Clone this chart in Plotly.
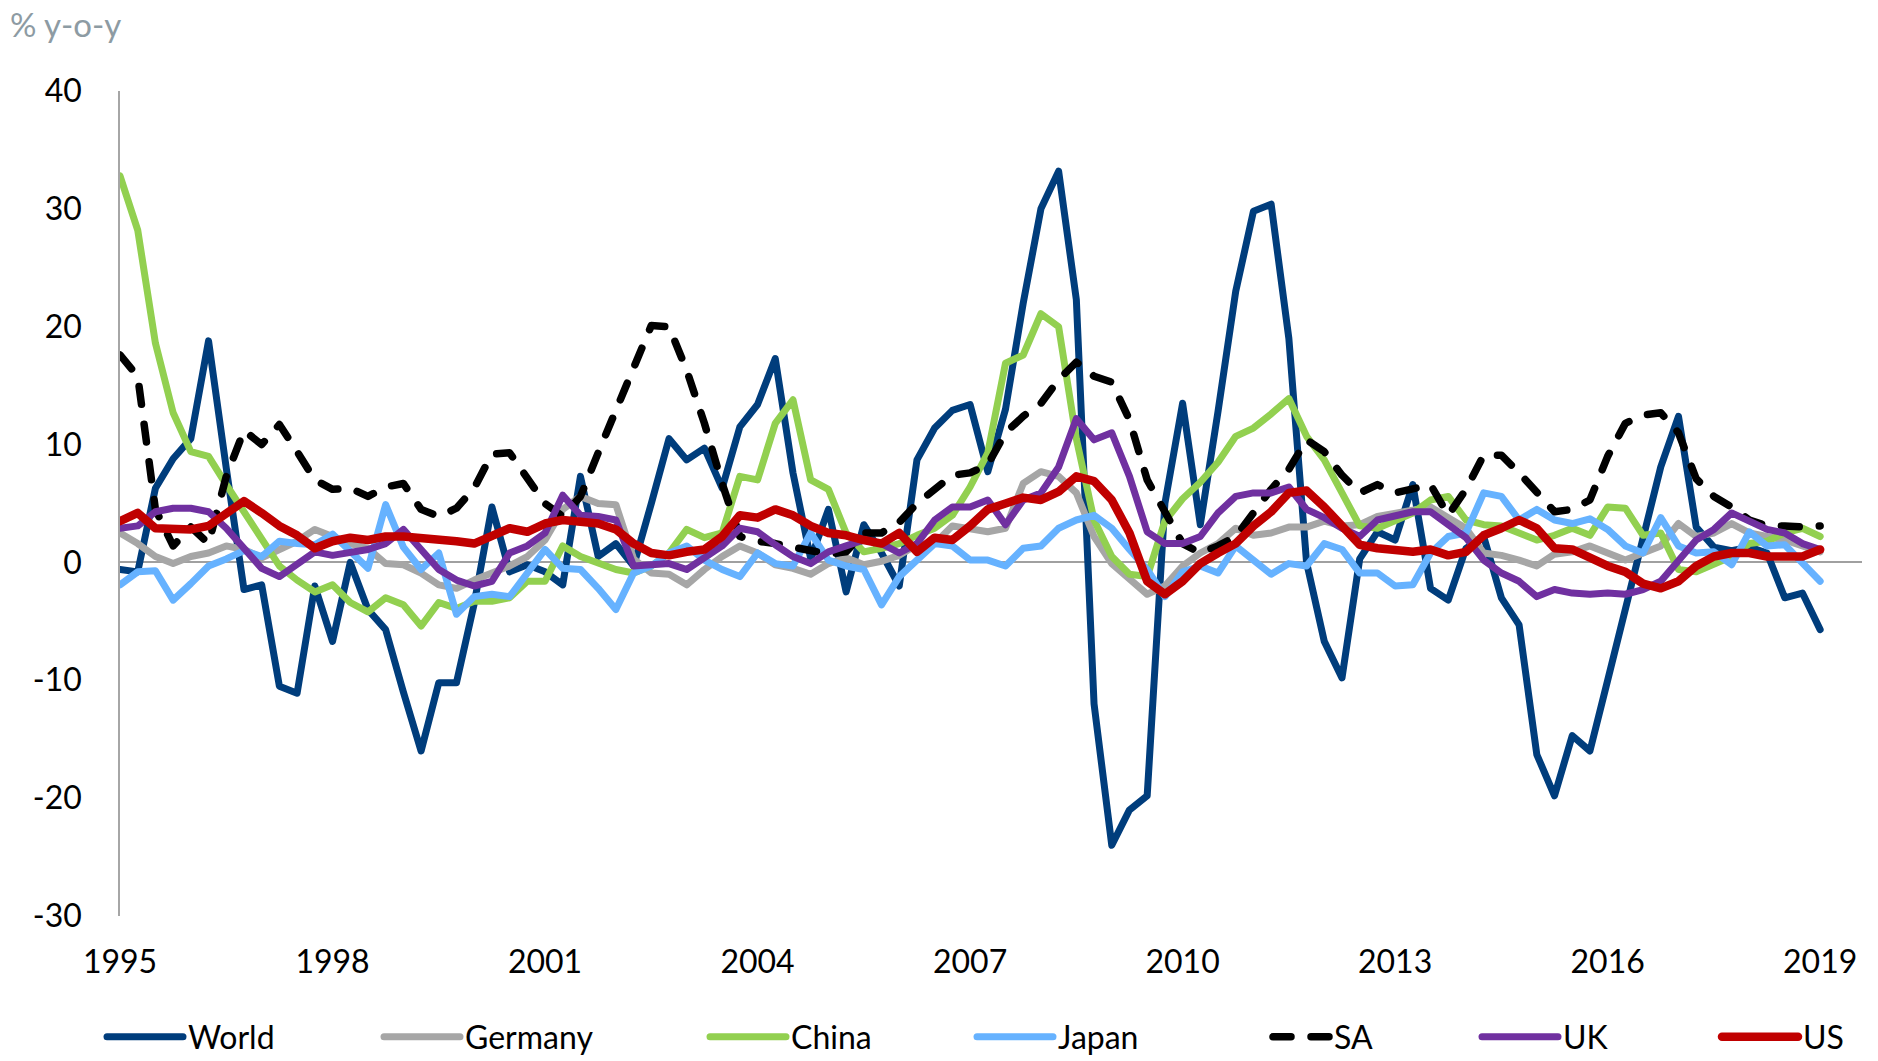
import plotly.graph_objects as go

# ---------------- data (quarterly, 1995Q1 .. 2019Q1) ----------------
start_year = 1995
n_quarters = 97
quarters = [start_year + q / 4 for q in range(n_quarters)]

tick_years = [1995, 1998, 2001, 2004, 2007, 2010, 2013, 2016, 2019]
tick_labels = [str(y) for y in tick_years]

y_ticks = [-30, -20, -10, 0, 10, 20, 30, 40]
y_tick_labels = ["-30", "-20", "-10", "0", "10", "20", "30", "40"]

world = [-0.6, -0.8, 6.3, 8.8, 10.5, 18.8, 8.0, -2.3, -1.9, -10.5, -11.1, -2.0, -6.7, 0.0, -4.0, -5.7,
         -11.0, -16.0, -10.2, -10.2, -3.5, 4.7, -0.8, -0.2, -0.8, -1.9, 7.3, 0.5, 1.6, -0.3, 5.0, 10.5,
         8.7, 9.7, 6.3, 11.5, 13.4, 17.3, 7.6, 0.3, 4.5, -2.5, 3.2, 0.8, -2.0, 8.7, 11.4, 12.9,
         13.4, 7.7, 13.0, 22.0, 30.0, 33.2, 22.3, -12.0, -24.0, -21.0, -19.8, 5.0, 13.5, 3.2, 12.8, 23.0,
         29.8, 30.4, 19.0, 0.0, -6.7, -9.8, 0.3, 2.6, 1.9, 6.6, -2.2, -3.2, 1.2, 2.2, -3.0, -5.3,
         -16.3, -19.8, -14.7, -16.0, -10.0, -4.0, 2.2, 8.1, 12.4, 3.0, 1.3, 1.0, 1.3, 0.8, -3.0, -2.6,
         -5.7]

germany = [2.5, 1.6, 0.5, -0.1, 0.5, 0.8, 1.4, 1.1, 0.4, 1.1, 1.8, 2.8, 2.2, 1.6, 1.2, -0.1,
           -0.2, -0.9, -1.9, -2.2, -1.5, -0.9, -0.3, 0.5, 1.9, 4.5, 5.6, 5.0, 4.9, 0.3, -0.9, -1.0,
           -1.9, -0.6, 0.5, 1.4, 0.8, -0.2, -0.5, -1.0, -0.1, 0.4, -0.2, 0.1, 0.6, 1.5, 1.6, 3.1,
           2.8, 2.6, 2.9, 6.7, 7.7, 7.3, 5.9, 2.2, -0.1, -1.5, -2.7, -2.0, -0.3, 0.8, 1.6, 2.9,
           2.3, 2.5, 3.0, 3.0, 3.5, 3.1, 3.2, 3.9, 4.2, 4.5, 4.7, 3.8, 2.9, 0.8, 0.6, 0.2,
           -0.3, 0.7, 0.9, 1.4, 0.8, 0.2, 0.8, 1.4, 3.3, 2.2, 2.5, 3.3, 2.5, 2.2, 1.9, 1.4,
           0.9]

china = [32.8, 28.2, 18.6, 12.7, 9.4, 9.0, 6.6, 4.3, 1.9, -0.3, -1.5, -2.5, -1.9, -3.4, -4.2, -3.0,
         -3.6, -5.4, -3.4, -3.9, -3.3, -3.3, -3.0, -1.6, -1.6, 1.4, 0.5, -0.1, -0.6, -0.9, -0.3, 0.8,
         2.8, 2.1, 2.5, 7.3, 7.0, 11.8, 13.8, 7.0, 6.2, 2.5, 0.9, 1.2, 1.6, 2.3, 2.9, 4.0,
         6.4, 9.3, 16.9, 17.6, 21.1, 20.0, 10.5, 3.6, 0.5, -1.0, -1.2, 3.5, 5.4, 6.8, 8.5, 10.7,
         11.4, 12.6, 13.9, 10.7, 8.7, 5.9, 3.1, 2.9, 3.5, 4.2, 5.3, 5.6, 3.6, 3.2, 3.1, 2.5,
         1.9, 2.3, 2.9, 2.3, 4.7, 4.6, 2.3, 2.5, -0.6, -0.8, -0.1, 0.5, 1.6, 1.8, 2.5, 2.9,
         2.2]

japan = [-1.9, -0.8, -0.7, -3.2, -1.8, -0.3, 0.3, 1.0, 0.5, 1.8, 1.6, 1.5, 2.4, 1.0, -0.5, 4.9,
         1.3, -0.6, 0.8, -4.4, -2.9, -2.7, -2.9, -0.9, 1.1, -0.5, -0.6, -2.2, -4.0, -0.9, -0.3, 0.8,
         1.4, 0.2, -0.6, -1.2, 0.8, -0.1, -0.3, 2.5, 0.2, -0.3, -0.6, -3.6, -1.2, 0.2, 1.6, 1.4,
         0.2, 0.2, -0.3, 1.2, 1.4, 2.9, 3.6, 4.0, 2.9, 1.1, -0.6, -2.9, -0.8, -0.3, -0.9, 1.4,
         0.2, -1.0, -0.1, -0.3, 1.6, 1.1, -0.9, -0.9, -2.0, -1.9, 0.8, 2.2, 2.5, 5.9, 5.6, 3.6,
         4.5, 3.6, 3.3, 3.7, 2.8, 1.4, 0.8, 3.8, 1.4, 0.8, 0.9, -0.2, 2.6, 1.4, 1.5, -0.1,
         -1.6]

sa = [17.6, 15.8, 4.5, 1.4, 3.0, 1.6, 7.3, 11.2, 10.0, 11.7, 9.4, 7.0, 6.2, 6.3, 5.6, 6.4,
      6.7, 4.5, 3.9, 4.6, 6.3, 9.2, 9.3, 7.1, 5.0, 3.9, 5.6, 9.3, 12.9, 16.5, 20.1, 20.0,
      16.3, 11.8, 6.7, 2.2, 1.8, 1.6, 1.3, 1.0, 0.7, 0.9, 2.5, 2.5, 3.4, 5.0, 6.3, 7.4,
      7.6, 8.3, 11.0, 12.4, 13.5, 15.5, 17.0, 15.8, 15.3, 12.1, 7.0, 4.2, 1.6, 0.8, 1.4, 2.2,
      4.2, 6.2, 7.9, 10.4, 9.4, 7.4, 5.9, 6.6, 5.9, 6.3, 6.6, 4.0, 6.2, 9.1, 9.1, 7.6,
      5.9, 4.3, 4.5, 5.3, 9.0, 11.8, 12.5, 12.7, 11.0, 7.1, 5.6, 4.7, 3.6, 3.1, 3.1, 3.0,
      3.1]

uk = [2.9, 3.1, 4.3, 4.6, 4.6, 4.3, 2.9, 1.2, -0.5, -1.2, -0.2, 0.9, 0.6, 0.8, 1.1, 1.6,
      2.8, 1.1, -0.6, -1.5, -2.0, -1.6, 0.8, 1.4, 2.5, 5.7, 4.0, 3.9, 3.6, -0.3, -0.2, -0.1,
      -0.6, 0.4, 1.4, 2.9, 2.6, 1.5, 0.5, -0.1, 0.9, 1.4, 1.9, 1.6, 0.8, 1.6, 3.6, 4.7,
      4.7, 5.3, 3.2, 5.3, 5.9, 8.1, 12.2, 10.4, 11.0, 7.3, 2.6, 1.6, 1.6, 2.2, 4.2, 5.6,
      5.9, 5.9, 6.4, 4.5, 3.8, 2.9, 2.2, 3.6, 4.0, 4.3, 4.3, 3.2, 2.1, 0.2, -0.9, -1.6,
      -2.9, -2.3, -2.6, -2.7, -2.6, -2.7, -2.3, -1.6, 0.2, 1.9, 2.8, 4.2, 3.5, 2.8, 2.5, 1.6,
      1.1]

us = [3.5, 4.2, 2.9, 2.9, 2.8, 3.1, 4.2, 5.2, 4.2, 3.1, 2.3, 1.2, 1.8, 2.1, 1.9, 2.2,
      2.2, 2.1, 1.9, 1.8, 1.6, 2.2, 2.9, 2.6, 3.3, 3.6, 3.5, 3.3, 2.8, 1.6, 0.8, 0.6,
      0.9, 1.1, 2.2, 4.0, 3.8, 4.5, 4.0, 3.1, 2.5, 2.3, 1.9, 1.6, 2.5, 0.9, 2.1, 1.9,
      3.1, 4.5, 5.0, 5.5, 5.3, 6.0, 7.3, 6.9, 5.3, 2.5, -1.6, -2.7, -1.6, -0.1, 0.8, 1.6,
      3.1, 4.3, 5.9, 6.1, 4.7, 3.1, 1.5, 1.2, 1.1, 0.9, 1.1, 0.6, 0.9, 2.3, 2.9, 3.6,
      2.9, 1.2, 1.1, 0.4, -0.3, -0.8, -1.8, -2.2, -1.6, -0.3, 0.5, 0.8, 0.8, 0.5, 0.5, 0.5,
      1.1]

series_names = ["World", "Germany", "China", "Japan", "SA", "UK", "US"]
series_values = [world, germany, china, japan, sa, uk, us]
series_colors = ["#003D7C", "#A6A6A6", "#92D050", "#66B2FF", "#000000", "#7030A0", "#C00000"]
series_widths = [7, 7, 7, 7, 7.5, 7, 8.5]
series_dash = ["solid", "solid", "solid", "solid", "18px,20px", "solid", "solid"]

# ---------------- figure ----------------
FONT = "Lato, 'Open Sans', sans-serif"
W, H = 1878, 1061
ML, MR, MT, MB = 120, 16, 91, 145
plot_w = W - ML - MR
plot_h = H - MT - MB

legend_starts_px = [112, 389, 715, 982, 1258, 1487, 1727]
legend_item_widths = [76, 76, 76, 76, 56, 76, 76]
legend_y_px = 1037

fig = go.Figure()
legend_layouts = {}
for k, (name, vals, col, lw, dash) in enumerate(
        zip(series_names, series_values, series_colors, series_widths, series_dash)):
    lg = "legend" if k == 0 else f"legend{k + 1}"
    fig.add_trace(go.Scatter(
        x=quarters, y=vals, name=name, mode="lines",
        line=dict(color=col, width=lw, dash=dash),
        legend=lg, hoverinfo="skip",
    ))
    shift = 76 - legend_item_widths[k]
    legend_layouts[lg] = dict(
        x=(legend_starts_px[k] + shift - 10 - ML) / plot_w,
        y=(H - MB - legend_y_px) / plot_h,
        xanchor="left", yanchor="middle",
        orientation="h",
        bgcolor="rgba(0,0,0,0)",
        borderwidth=0,
        itemwidth=legend_item_widths[k],
        font=dict(family=FONT, size=32, color="#000000"),
        tracegroupgap=0,
    )

fig.update_layout(
    width=W, height=H,
    margin=dict(l=ML, r=MR, t=MT, b=MB, autoexpand=False),
    paper_bgcolor="white", plot_bgcolor="white",
    font=dict(family=FONT, size=32, color="#000000"),
    showlegend=True,
    **legend_layouts,
    xaxis=dict(
        range=[1995, 1995 + (plot_w / 17.71) / 4],
        tickvals=tick_years, ticktext=tick_labels,
        showgrid=False, zeroline=False, showline=False,
        ticks="outside", ticklen=18, tickcolor="rgba(0,0,0,0)",
        tickfont=dict(family=FONT, size=32, color="#000000"),
        fixedrange=True, automargin=False,
    ),
    yaxis=dict(
        range=[-30, 40],
        tickvals=y_ticks, ticktext=y_tick_labels,
        showgrid=False,
        zeroline=True, zerolinecolor="#A0A0A0", zerolinewidth=1.5,
        showline=True, linecolor="#A6A6A6", linewidth=1.5,
        ticks="outside", ticklen=30, tickcolor="rgba(0,0,0,0)",
        tickfont=dict(family=FONT, size=32, color="#000000"),
        fixedrange=True, automargin=False,
    ),
    annotations=[dict(
        text="% y-o-y", xref="paper", yref="paper",
        x=(8 - ML) / plot_w, y=(H - MB - 24) / plot_h,
        xanchor="left", yanchor="middle", showarrow=False,
        font=dict(family=FONT, size=33, color="#8D9BA3"),
    )],
)

post_js = """
document.documentElement.style.margin = '0';
document.documentElement.style.padding = '0';
document.documentElement.style.overflow = 'hidden';
document.body.style.margin = '0';
document.body.style.padding = '0';
document.body.style.overflow = 'hidden';
var gd = document.getElementById('{plot_id}');
function roundLines(){
  document.querySelectorAll('.scatterlayer path.js-line, .legendlines path').forEach(function(p){
    p.style.strokeLinejoin = 'round';
    p.style.strokeLinecap = 'round';
  });
}
roundLines();
if (gd && gd.on) { gd.on('plotly_afterplot', roundLines); }
"""

fig.write_html("out.html", post_script=post_js, config={"displayModeBar": False})
